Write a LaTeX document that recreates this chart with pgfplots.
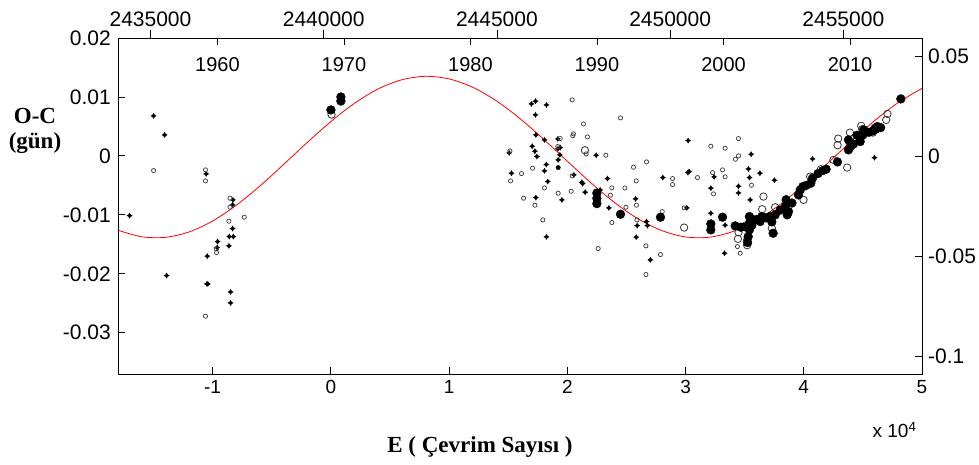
\documentclass[border=0pt]{standalone}
\usepackage{pgfplots}
\pgfplotsset{compat=1.18}
\usepackage{fontspec}
\setmainfont{Liberation Sans}
\newfontfamily\labfont{Liberation Serif}

% small four-pointed star used for the visual/photographic minima
\pgfdeclareplotmark{star4}{%
  \pgfpathmoveto{\pgfpoint{0pt}{\pgfplotmarksize}}%
  \pgfpathlineto{\pgfpoint{0.38\pgfplotmarksize}{0.38\pgfplotmarksize}}%
  \pgfpathlineto{\pgfpoint{\pgfplotmarksize}{0pt}}%
  \pgfpathlineto{\pgfpoint{0.38\pgfplotmarksize}{-0.38\pgfplotmarksize}}%
  \pgfpathlineto{\pgfpoint{0pt}{-\pgfplotmarksize}}%
  \pgfpathlineto{\pgfpoint{-0.38\pgfplotmarksize}{-0.38\pgfplotmarksize}}%
  \pgfpathlineto{\pgfpoint{-\pgfplotmarksize}{0pt}}%
  \pgfpathlineto{\pgfpoint{-0.38\pgfplotmarksize}{0.38\pgfplotmarksize}}%
  \pgfpathclose
  \pgfusepathqfill
}

\pgfplotsset{
  frame/.style={at={(118pt,91pt)}, anchor=south west,
    width=804pt, height=336pt, scale only axis},
}

\begin{document}
\begin{tikzpicture}[x=1pt,y=1pt]
\path[use as bounding box] (0,0) rectangle (979,465);

% ---------- main O-C axis (cycle number, days) ----------
\begin{axis}[frame,
  xmin=-1.8, xmax=5, ymin=-0.037, ymax=0.02,
  xtick={-1,0,1,2,3,4,5}, xticklabels={-1,0,1,2,3,4,5},
  ytick={-0.03,-0.02,-0.01,0,0.01,0.02},
  yticklabels={-0.03,-0.02,-0.01,0,0.01,0.02},
  scaled ticks=false,
  xtick pos=bottom, ytick pos=left,
  tick align=inside, major tick length=7pt,
  axis line style={line width=0.8pt},
  tick style={line width=0.8pt, black},
  xticklabel style={font=\fontsize{19}{19}\selectfont, inner sep=0pt, yshift=-6pt},
  yticklabel style={font=\fontsize{21}{21}\selectfont, inner sep=0pt, xshift=-7pt},
]
% fitted light-time curve
\addplot[red, line width=0.8pt, smooth] coordinates {
(-1.8,-0.01261)(-1.6,-0.01372)(-1.4,-0.01382)(-1.2,-0.01291)(-1.0,-0.01105)
(-0.8,-0.00838)(-0.6,-0.00511)(-0.4,-0.00146)(-0.2,0.00227)(0.0,0.00582)
(0.2,0.00892)(0.4,0.01136)(0.6,0.01291)(0.8,0.01350)(1.0,0.01306)
(1.2,0.01164)(1.4,0.00934)(1.6,0.00633)(1.8,0.00282)(2.0,-0.00090)
(2.2,-0.00457)(2.4,-0.00792)(2.6,-0.01070)(2.8,-0.01268)(3.0,-0.01375)
(3.2,-0.01380)(3.4,-0.01283)(3.6,-0.01093)(3.8,-0.00824)(4.0,-0.00493)
(4.2,-0.00128)(4.4,0.00245)(4.6,0.00600)(4.8,0.00906)(5.0,0.01146)
};
% visual / photographic minima
\addplot[only marks, mark=star4, mark size=3pt, black] coordinates {
(-1.499,0.00679)(-1.406,0.00356)(-1.702,-0.01013)(-1.389,-0.02031)
(-1.054,-0.00305)(-0.828,-0.00746)(-0.831,-0.00831)(-0.831,-0.01233)
(-0.859,-0.01369)(-0.825,-0.01369)(-0.958,-0.01454)(-0.962,-0.01555)
(-0.862,-0.01527)(-1.045,-0.01701)(-1.048,-0.02171)(-1.040,-0.02171)
(-0.848,-0.02307)(-0.848,-0.02494)
(1.697,0.00882)(1.731,0.00928)(1.824,0.00865)(1.731,0.00696)
(1.734,0.00356)(1.807,0.00271)(1.920,0.00288)(1.509,0.00051)
(1.703,0.00164)(1.726,0.00079)(1.743,-0.00011)(1.940,0.00141)
(1.920,0.00119)(1.937,0.00017)(1.923,-0.00068)(1.822,-0.00147)
(1.807,-0.00254)(1.528,-0.00294)(2.056,-0.00322)(1.835,-0.00435)
(1.734,-0.00707)(1.954,-0.00746)(1.824,-0.01374)
(2.244,0.00011)(2.808,-0.00368)(2.340,-0.00385)(2.123,-0.00447)
(2.130,-0.00470)(2.151,-0.00616)(2.278,-0.00577)(2.577,-0.00729)
(2.352,-0.00882)(2.591,-0.01182)(2.670,-0.01114)(2.678,-0.01182)
(2.583,-0.01379)(2.702,-0.01764)
(3.022,0.00260)(3.555,0.00028)(3.020,-0.00283)(3.030,-0.00265)
(3.242,-0.00356)(3.532,-0.00221)(3.629,-0.00294)(3.541,-0.00368)
(3.752,-0.00413)(3.214,-0.00548)(3.448,-0.00515)(3.448,-0.00628)
(3.547,-0.00746)(3.011,-0.00882)(3.214,-0.00973)(3.335,-0.01176)
(3.330,-0.01651)(4.074,-0.00051)(4.598,-0.00030)
};
% small filled point
\addplot[only marks, mark=*, mark size=2.2pt, black] coordinates {
(1.923,-0.00198)
};
% small open circles
\addplot[only marks, mark=o, mark size=2.1pt, black!75, mark options={line width=0.75pt}] coordinates {
(-1.499,-0.00249)(-1.060,-0.00237)(-1.060,-0.00424)(-0.853,-0.00718)
(-0.853,-0.00870)(-0.732,-0.01040)(-0.862,-0.01108)(-0.967,-0.01578)
(-0.967,-0.01640)(-1.060,-0.02719)
(2.041,0.00950)(1.940,0.00294)(2.052,0.00373)(2.046,0.00340)
(1.515,0.00085)(1.920,0.00158)(1.706,-0.00209)(1.613,-0.00300)
(1.520,-0.00424)(2.041,-0.00339)(1.807,-0.00543)(1.923,-0.00633)
(2.033,-0.00600)(1.630,-0.00718)(1.726,-0.00837)(1.793,-0.01086)
(2.137,0.00543)(2.450,0.00645)(2.171,0.00322)(2.160,0.00034)
(2.326,0.00011)(2.670,-0.00102)(2.560,-0.00192)(2.890,-0.00385)
(2.890,-0.00487)(2.583,-0.00424)(2.377,-0.00543)(2.487,-0.00543)
(2.365,-0.00667)(2.585,-0.00837)(2.496,-0.00871)(2.377,-0.01131)
(2.589,-0.01086)(2.803,-0.00945)(2.261,-0.01572)(2.665,-0.01527)
(2.788,-0.01674)(2.665,-0.02013)
(3.448,0.00294)(3.214,0.00164)(3.335,0.00130)(3.448,0.00000)
(3.422,-0.00056)(3.228,-0.00283)(3.313,-0.00237)(3.101,-0.00368)
(3.335,-0.00356)(3.558,-0.00498)(3.237,-0.00645)(2.989,-0.00882)
(3.439,-0.01538)(3.462,-0.01651)
};
% CCD minima, open
\addplot[only marks, mark=o, mark size=3.7pt, black!80, mark options={line width=0.8pt}] coordinates {
(0.006,0.00701)(2.149,0.00096)(2.988,-0.01216)(3.659,-0.00690)
(3.648,-0.00904)(3.758,-0.00871)(3.730,-0.01227)(3.448,-0.01295)
(3.443,-0.01408)(3.521,-0.01425)(3.521,-0.01515)(3.851,-0.00735)
(3.998,-0.00746)(4.054,-0.00351)(4.145,-0.00226)(4.251,-0.00068)
(4.367,-0.00198)(4.291,0.00294)(4.286,0.00181)(4.390,0.00395)
(4.486,0.00509)(4.494,0.00453)(4.580,0.00412)(4.708,0.00712)
(4.697,0.00611)(4.584,0.00395)
};
% CCD minima, filled
\addplot[only marks, mark=*, mark size=4.4pt, black] coordinates {
(0.085,0.01000)(0.085,0.00930)(0.001,0.00780)
(2.250,-0.00630)(2.250,-0.00810)(2.250,-0.00720)(2.450,-0.00990)(2.788,-0.01040)
(3.313,-0.01040)(3.214,-0.01154)(3.214,-0.01255)(3.420,-0.01187)
(3.468,-0.01210)(3.500,-0.01200)(3.540,-0.01029)(3.540,-0.01142)
(3.540,-0.01255)(3.530,-0.01369)(3.525,-0.01470)(3.560,-0.01180)
(3.575,-0.01086)(3.600,-0.01080)(3.645,-0.01029)(3.631,-0.01114)
(3.680,-0.01050)(3.716,-0.01029)(3.758,-0.01001)(3.741,-0.01312)
(3.730,-0.01120)(3.800,-0.00920)(3.843,-0.00860)(3.871,-0.00945)
(3.851,-0.00746)(3.860,-0.01000)(3.900,-0.00800)(3.955,-0.00662)
(3.970,-0.00577)(3.992,-0.00521)(4.020,-0.00500)(4.060,-0.00463)
(4.074,-0.00378)(4.120,-0.00300)(4.161,-0.00249)(4.189,-0.00226)
(4.285,-0.00102)(4.378,0.00102)(4.406,0.00187)(4.393,0.00158)
(4.378,0.00271)(4.420,0.00200)(4.450,0.00350)(4.477,0.00300)
(4.500,0.00356)(4.477,0.00243)(4.508,0.00441)(4.550,0.00400)
(4.608,0.00453)(4.623,0.00497)(4.604,0.00470)(4.589,0.00429)
(4.650,0.00480)(4.821,0.00967)
};
\end{axis}

% ---------- right axis (O-C scale on the right) ----------
\begin{axis}[frame,
  xmin=0, xmax=1, ymin=-0.109, ymax=0.059,
  axis y line*=right, axis x line=none,
  ytick={-0.1,-0.05,0,0.05}, yticklabels={-0.1,-0.05,0,0.05},
  scaled ticks=false,
  tick align=inside, major tick length=7pt,
  axis line style={line width=0.8pt},
  tick style={line width=0.8pt, black},
  yticklabel style={font=\fontsize{21}{21}\selectfont, inner sep=0pt, xshift=6pt},
]
\end{axis}

% ---------- top axis: Julian Date ----------
\begin{axis}[frame,
  xmin=-938, xmax=22271, ymin=0, ymax=1,
  axis x line*=top, axis y line=none,
  xtick={0,5000,10000,15000,20000},
  xticklabels={2435000,2440000,2445000,2450000,2455000},
  scaled ticks=false,
  tick align=outside, major tick length=8pt,
  axis line style={line width=0.8pt},
  tick style={line width=0.8pt, black},
  xticklabel style={font=\fontsize{21}{21}\selectfont, inner sep=0pt, yshift=3pt},
]
\end{axis}

% ---------- inner top axis: calendar years ----------
\begin{axis}[frame,
  xmin=1952.14, xmax=2015.69, ymin=0, ymax=1,
  axis x line*=top, axis y line=none,
  xtick={1960,1970,1980,1990,2000,2010},
  xticklabels={1960,1970,1980,1990,2000,2010},
  scaled ticks=false,
  tick align=inside, major tick length=7pt,
  axis line style={line width=0.8pt},
  tick style={line width=0.8pt, black},
  xticklabel style={font=\fontsize{20}{20}\selectfont, inner sep=0pt, anchor=north, yshift=-19pt},
]
\end{axis}

% ---------- labels ----------
\node[font=\fontsize{19}{19}\selectfont, anchor=base east] at (920,27) {x 10\textsuperscript{4}};
\node[font=\labfont\bfseries\fontsize{23}{25}\selectfont, align=center] at (35,334) {O-C\\(gün)};
\node[font=\labfont\bfseries\fontsize{23}{23}\selectfont] at (480,18) {E ( Çevrim Sayısı )};
\end{tikzpicture}
\end{document}
